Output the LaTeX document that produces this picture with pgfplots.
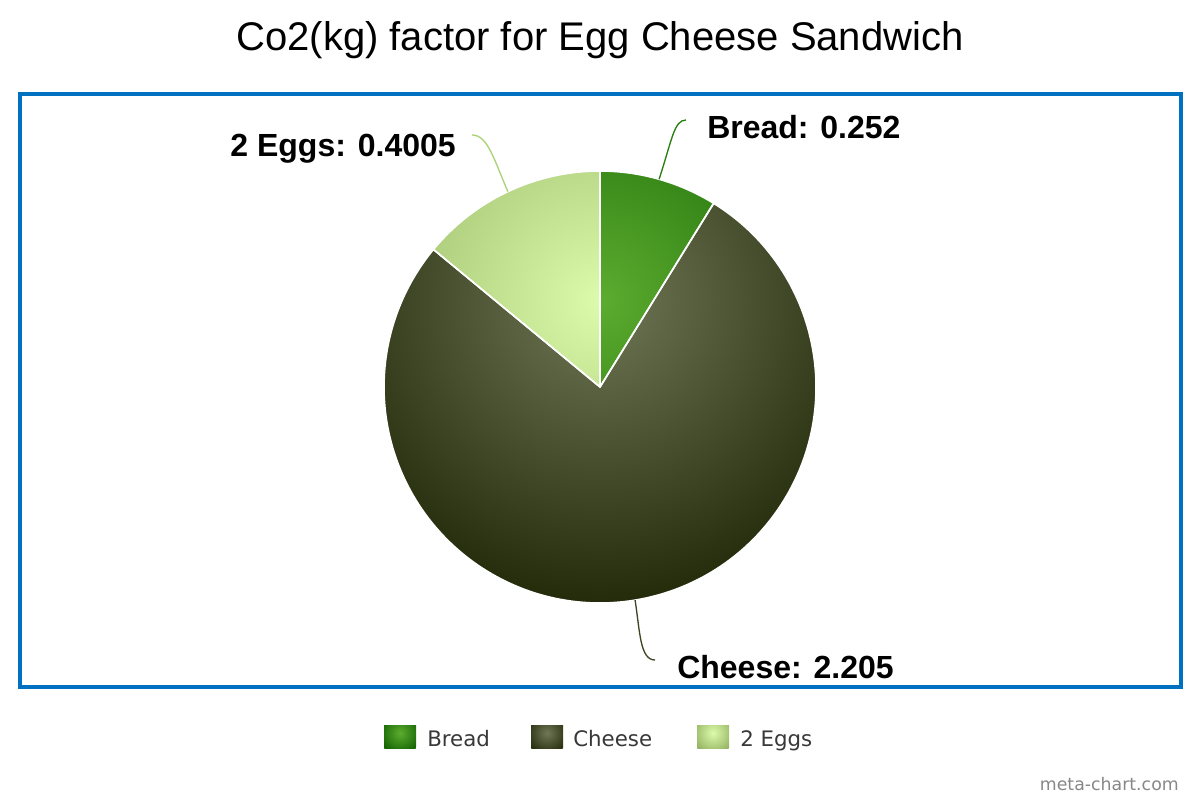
\documentclass[border=0pt]{standalone}
\usepackage{fontspec}
\setmainfont{Liberation Sans}
\newfontfamily\legfont{DejaVu Sans}
\usepackage{pgfplots}
\usepackage{pgfplotstable}
\pgfplotsset{compat=1.18}

\definecolor{breadA}{RGB}{92,172,48}
\definecolor{breadB}{RGB}{16,96,0}
\definecolor{cheeseA}{RGB}{111,119,87}
\definecolor{cheeseB}{RGB}{35,43,11}
\definecolor{eggsA}{RGB}{220,252,172}
\definecolor{eggsB}{RGB}{144,176,96}
\definecolor{framecol}{RGB}{0,112,192}
\definecolor{breadline}{RGB}{40,125,15}
\definecolor{cheeseline}{RGB}{60,70,35}
\definecolor{eggsline}{RGB}{170,210,120}

\pgfdeclareradialshading{bread}{\pgfpointorigin}{color(0bp)=(breadA); color(25bp)=(breadB); color(50bp)=(breadB)}
\pgfdeclareradialshading{cheese}{\pgfpointorigin}{color(0bp)=(cheeseA); color(25bp)=(cheeseB); color(50bp)=(cheeseB)}
\pgfdeclareradialshading{eggs}{\pgfpointorigin}{color(0bp)=(eggsA); color(25bp)=(eggsB); color(50bp)=(eggsB)}

\pgfplotstableread{
label value
Bread 0.252
Cheese 2.205
Eggs 0.4005
}\piedata

\begin{document}%
\begin{tikzpicture}
\pgfplotstablegetelem{0}{value}\of\piedata \let\vA\pgfplotsretval
\pgfplotstablegetelem{1}{value}\of\piedata \let\vB\pgfplotsretval
\pgfplotstablegetelem{2}{value}\of\piedata \let\vC\pgfplotsretval
\pgfmathsetmacro\tot{\vA+\vB+\vC}
\pgfmathsetmacro\aA{90}
\pgfmathsetmacro\aB{\aA-360*\vA/\tot}
\pgfmathsetmacro\aC{\aB-360*\vB/\tot}
\pgfmathsetmacro\aD{\aC-360*\vC/\tot}
\pgfmathsetmacro\mA{(\aA+\aB)/2}
\pgfmathsetmacro\mB{(\aB+\aC)/2}
\pgfmathsetmacro\mC{(\aC+\aD)/2}
\begin{axis}[
  x=0.75pt, y=0.75pt,
  xmin=0, xmax=1200, ymin=0, ymax=800,
  hide axis, clip=false,
]
\path (0,0) rectangle (1200,800);
% title
\node[anchor=base, inner sep=0pt, font=\fontsize{30pt}{36pt}\selectfont] at (600,749) {Co2(kg) factor for Egg Cheese Sandwich};
% frame
\draw[framecol, line width=3pt] (20,113) rectangle (1181,706);
% slices
\begin{scope}
\clip (600,413) -- ++(\aA:162pt) arc[start angle=\aA, end angle=\aB, radius=162pt] -- cycle;
\shade[shading=bread] (600,499) circle[radius=226.5pt];
\end{scope}
\begin{scope}
\clip (600,413) -- ++(\aB:162pt) arc[start angle=\aB, end angle=\aC, radius=162pt] -- cycle;
\shade[shading=cheese] (600,499) circle[radius=226.5pt];
\end{scope}
\begin{scope}
\clip (600,413) -- ++(\aC:162pt) arc[start angle=\aC, end angle=\aD, radius=162pt] -- cycle;
\shade[shading=eggs] (600,499) circle[radius=226.5pt];
\end{scope}
\draw[white, line width=1.2pt, line join=round] (600,413) -- ++(\aA:162pt) arc[start angle=\aA, end angle=\aB, radius=162pt] -- cycle;
\draw[white, line width=1.2pt, line join=round] (600,413) -- ++(\aB:162pt) arc[start angle=\aB, end angle=\aC, radius=162pt] -- cycle;
\draw[white, line width=1.2pt, line join=round] (600,413) -- ++(\aC:162pt) arc[start angle=\aC, end angle=\aD, radius=162pt] -- cycle;
% leader lines
\draw[breadline, line width=1pt] (600,413) ++(\mA:162pt) .. controls (672,660) and (674,680) .. (686,680);
\draw[cheeseline, line width=1pt] (600,413) ++(\mB:162pt) .. controls (640,168) and (640,140) .. (655,140);
\draw[eggsline, line width=1pt] (600,413) ++(\mC:162pt) .. controls (494,640) and (488,665) .. (472,665);
% data labels
\node[anchor=base west, inner sep=0pt, font=\fontsize{24pt}{28pt}\selectfont\bfseries] at (707,661) {Bread: 0.252};
\node[anchor=base west, inner sep=0pt, font=\fontsize{24pt}{28pt}\selectfont\bfseries] at (677,121) {Cheese: 2.205};
\node[anchor=base east, inner sep=0pt, font=\fontsize{24pt}{28pt}\selectfont\bfseries] at (456,643) {2 Eggs: 0.4005};
% legend
\begin{scope}
\clip (384,51) rectangle (416,74);
\shade[shading=bread] (400,67) circle[radius=16.5pt];
\end{scope}
\begin{scope}
\clip (531,51) rectangle (563,74);
\shade[shading=cheese] (547,67) circle[radius=16.5pt];
\end{scope}
\begin{scope}
\clip (697,51) rectangle (729,74);
\shade[shading=eggs] (713,67) circle[radius=16.5pt];
\end{scope}
\node[anchor=base west, inner sep=0pt, text=black!78, font=\legfont\fontsize{16pt}{19pt}\selectfont] at (427,53) {Bread};
\node[anchor=base west, inner sep=0pt, text=black!78, font=\legfont\fontsize{16pt}{19pt}\selectfont] at (573,53) {Cheese};
\node[anchor=base west, inner sep=0pt, text=black!78, font=\legfont\fontsize{16pt}{19pt}\selectfont] at (740,53) {2 Eggs};
% watermark
\node[anchor=base east, inner sep=0pt, text=black!47, font=\legfont\fontsize{13pt}{16pt}\selectfont] at (1179,10) {meta-chart.com};
\end{axis}
\end{tikzpicture}%
\end{document}
